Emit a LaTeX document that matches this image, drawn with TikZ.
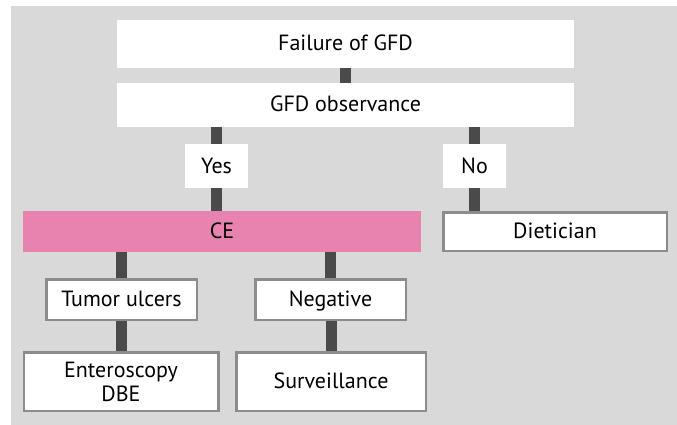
\documentclass[tikz,border=0pt]{standalone}
\usepackage{fontspec}
\setmainfont{PT Sans}
\usetikzlibrary{positioning}

\definecolor{bggray}{HTML}{D9D9D9}
\definecolor{linkgray}{HTML}{4A4A4A}
\definecolor{framegray}{HTML}{8C8C8C}
\definecolor{cepink}{HTML}{E882AE}

\begin{document}
\begin{tikzpicture}[x = 1pt, y = -1pt,
        plain/.style = {fill = white, inner sep = 0pt, font = \fontsize{22}{24}\selectfont},
        oneline/.style = {text height = 14pt, text depth = 0pt},
        framed/.style = {plain, draw = framegray, line width = 2.5pt},
        link/.style = {draw = linkgray, line width = 11pt}]
        \useasboundingbox (0, 0) rectangle (677, 425);
        \fill [bggray] (11, 6) rectangle (677, 425);

        % Nodes
        \node [plain, oneline, minimum width = 457pt, minimum height = 48pt] (fail) at (345.5, 44) {Failure of GFD};
        \node [plain, oneline, minimum width = 457pt, minimum height = 44pt] (obs) at (345.5, 105) {GFD observance};
        \node [plain, oneline, minimum width = 63pt, minimum height = 44pt] (yes) at (216.5, 166) {Yes};
        \node [plain, oneline, minimum width = 63pt, minimum height = 44pt] (no) at (474.5, 166) {No};
        \node [plain, oneline, fill = cepink, minimum width = 398pt, minimum height = 41pt] (ce) at (222, 231.5) {CE};
        \node [framed, oneline, minimum width = 223.5pt, minimum height = 38.5pt] (diet) at (555, 231.5) {Dietician};
        \node [framed, oneline, minimum width = 150.5pt, minimum height = 40.5pt] (tumor) at (121.5, 299.5) {Tumor ulcers};
        \node [framed, oneline, minimum width = 150.5pt, minimum height = 40.5pt] (neg) at (330.5, 299.5) {Negative};
        \node [framed, align = center, minimum width = 194.5pt, minimum height = 58.5pt] (ent) at (121, 381.5) {Enteroscopy\\DBE};
        \node [framed, oneline, minimum width = 189.5pt, minimum height = 58.5pt] (surv) at (331, 381.5) {Surveillance};

        % Edges
        \draw [link] (fail.south) -- (obs.north);
        \draw [link] (obs.south -| yes.north) -- (yes.north);
        \draw [link] (obs.south -| no.north) -- (no.north);
        \draw [link] (yes.south) -- (yes.south |- ce.north);
        \draw [link] (no.south) -- (diet.north -| no.south);
        \draw [link] (ce.south -| tumor.north) -- (tumor.north);
        \draw [link] (ce.south -| neg.north) -- (neg.north);
        \draw [link] (tumor.south -| ent.north) -- (ent.north);
        \draw [link] (neg.south -| surv.north) -- (surv.north);

    \end{tikzpicture}
\end{document}
